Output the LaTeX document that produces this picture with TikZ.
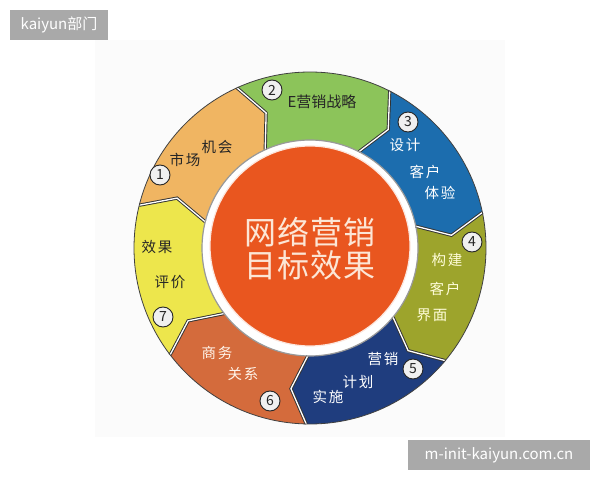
\documentclass[tikz,border=0pt]{standalone}
\usepackage{fontspec}
\setmainfont{Noto Sans CJK SC}
\definecolor{s1}{HTML}{F0B562}
\definecolor{s2}{HTML}{8CC45A}
\definecolor{s3}{HTML}{1C6DAE}
\definecolor{s4}{HTML}{9DA42C}
\definecolor{s5}{HTML}{1F3D7E}
\definecolor{s6}{HTML}{D46B3C}
\definecolor{s7}{HTML}{EDE64C}
\definecolor{core}{HTML}{E9561F}
\definecolor{wm}{HTML}{A9A9A9}
\definecolor{coretxt}{HTML}{FCE6D6}
\begin{document}
\begin{tikzpicture}[x=1pt,y=1pt,
  seglabel/.style={inner sep=0pt,font=\fontsize{14.5}{14.5}\selectfont\addfontfeature{LetterSpace=12}},
  badge/.style={circle,fill=black!6,draw=black!85,line width=0.9pt,minimum size=20pt,inner sep=0pt,font=\fontsize{14}{14}\selectfont,text=black!85},
  wmbox/.style={fill=wm,text=white,inner sep=0pt,font=\fontsize{15}{15}\selectfont},
  coretext/.style={inner sep=0pt,text=coretxt,font=\fontsize{32}{32}\selectfont\addfontfeature{LetterSpace=4}}]
\useasboundingbox (0,0) rectangle (600,480);
\fill[white] (0,0) rectangle (600,480);
\fill[black!1.5] (95,43) rectangle (505,440);
\begin{scope}[shift={(310,232)}]
  \fill[white] (0,0) circle[radius=108pt];
  \foreach \j/\c in {1/s1,2/s2,3/s3,4/s4,5/s5,6/s6,7/s7}{
    \pgfmathsetmacro{\A}{114.5-51.4286*(\j-2)}
    \pgfmathsetmacro{\C}{114.5-51.4286*(\j-1)}
    \pgfmathsetmacro{\Ad}{\A-6.5}
    \pgfmathsetmacro{\Cd}{\C-6.5}
    \fill[\c] (\A:176) arc[start angle=\A,end angle=\C,radius=176pt]
      -- (\Cd:142) -- (\C:108) arc[start angle=\C,end angle=\A,radius=108pt]
      -- (\Ad:142) -- cycle;
  }
  \foreach \k in {0,...,6}{
    \pgfmathsetmacro{\B}{114.5-51.4286*\k}
    \pgfmathsetmacro{\Bd}{\B-6.5}
    \draw[black!80,line width=3.2pt] (\B:176) -- (\Bd:142) -- (\B:108);
    \draw[white,line width=1.3pt] (\B:176) -- (\Bd:142) -- (\B:108);
  }
  \draw[black!75,line width=0.8pt] (0,0) circle[radius=176pt];
  \draw[black!40,line width=1.2pt] (0,0) circle[radius=108pt];
  \fill[white] (0,2) circle[radius=104pt];
  \fill[core,draw=white!85!core,line width=1.2pt] (0,2) circle[radius=100pt];
\end{scope}
% center text
\node[coretext] (c1) at (310,248) {网络营销};
\node[coretext] (c2) at (310,215) {目标效果};
% segment labels
\node[seglabel,text=black!85] (t1a) at (185,320) {市场};
\node[seglabel,text=black!85] (t1b) at (217,333) {机会};
\node[seglabel,text=black!85,font=\fontsize{15}{15}\selectfont] (t2) at (322,378) {E营销战略};
\node[seglabel,text=white] (t3a) at (405,335) {设计};
\node[seglabel,text=white] (t3b) at (425,308) {客户};
\node[seglabel,text=white] (t3c) at (440,287) {体验};
\node[seglabel,text=yellow!15] (t4a) at (447,220) {构建};
\node[seglabel,text=yellow!15] (t4b) at (445,191) {客户};
\node[seglabel,text=yellow!15] (t4c) at (432,165) {界面};
\node[seglabel,text=white] (t5a) at (383,121) {营销};
\node[seglabel,text=white] (t5b) at (358,98) {计划};
\node[seglabel,text=white] (t5c) at (328,83) {实施};
\node[seglabel,text=orange!8] (t6a) at (217,127) {商务};
\node[seglabel,text=orange!8] (t6b) at (243,106) {关系};
\node[seglabel,text=black!85] (t7a) at (157,233) {效果};
\node[seglabel,text=black!85] (t7b) at (170,198) {评价};
% badges
\node[badge] (b1) at (160,305) {1};
\node[badge] (b2) at (272,390) {2};
\node[badge] (b3) at (408,358) {3};
\node[badge] (b4) at (472,238) {4};
\node[badge] (b5) at (413,111) {5};
\node[badge] (b6) at (270,79) {6};
\node[badge] (b7) at (163,163) {7};
% watermarks
\fill[wm] (10,440) rectangle (108,470);
\node[wmbox] (w1) at (59,455) {kaiyun部门};
\fill[wm] (408,10) rectangle (590,40);
\node[wmbox] (w2) at (499,25) {m-init-kaiyun.com.cn};
\end{tikzpicture}
\end{document}
